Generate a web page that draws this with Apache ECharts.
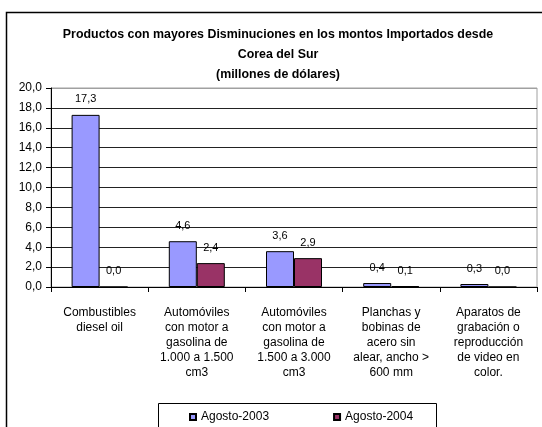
<!DOCTYPE html>
<html>
<head>
<meta charset="utf-8">
<script src="https://cdn.jsdelivr.net/npm/echarts@6/dist/echarts.min.js"></script>
<style>
  html, body { margin: 0; padding: 0; background: #fff; }
  #chart { width: 542px; height: 427px; }
</style>
</head>
<body>
<div id="chart"></div>
<script>
// categorias y valores (millones de dólares)
const categories = [
  "Combustibles\ndiesel oil",
  "Automóviles\ncon motor a\ngasolina de\n1.000 a 1.500\ncm3",
  "Automóviles\ncon motor a\ngasolina de\n1.500 a 3.000\ncm3",
  "Planchas y\nbobinas de\nacero sin\nalear, ancho >\n600 mm",
  "Aparatos de\ngrabación o\nreproducción\nde video en\ncolor."
];
const agosto2003 = [17.3, 4.6, 3.6, 0.4, 0.3];
const agosto2004 = [0.0, 2.4, 2.9, 0.1, 0.0];
const seriesNames = ["Agosto-2003", "Agosto-2004"];

const font = "Arial, 'Liberation Sans', sans-serif";
const fmt = v => v.toFixed(1).replace(".", ",");

const chart = echarts.init(document.getElementById("chart"));

// linea de 20,0 en gris (borde del área), resto negras
const splitColors = ["#000", "#222", "#222", "#222", "#222", "#222", "#222", "#222", "#222", "#222", "#a0a0a0"];

const barLabel = {
  show: true,
  position: "top",
  distance: 10,
  color: "#000",
  fontSize: 11,
  fontFamily: font,
  formatter: p => fmt(p.value)
};

const option = {
  backgroundColor: "#fff",
  animation: false,
  title: {
    text: "Productos con mayores Disminuciones en los montos Importados desde\nCorea del Sur\n(millones de dólares)",
    left: 273,
    top: 20,
    textAlign: "center",
    textStyle: {
      fontFamily: font,
      fontSize: 12.4,
      fontWeight: "bold",
      color: "#000",
      lineHeight: 20
    }
  },
  graphic: [
    {
      type: "rect",
      shape: { x: 6.5, y: 12.5, width: 560, height: 440 },
      style: { fill: "none", stroke: "#000", lineWidth: 1.5 },
      z: 100
    },
    {
      type: "rect",
      shape: { x: 158.5, y: 403.5, width: 278, height: 40 },
      style: { fill: "none", stroke: "#000", lineWidth: 1 },
      z: 100
    }
  ],
  legend: {
    data: seriesNames,
    left: 184,
    top: 406,
    itemWidth: 6,
    itemHeight: 6,
    itemGap: 64,
    icon: "rect",
    textStyle: { fontFamily: font, fontSize: 12, color: "#000" }
  },
  grid: {
    left: 51,
    right: 5,
    top: 88,
    bottom: 140,
    show: true,
    borderColor: "#a0a0a0",
    borderWidth: 1
  },
  xAxis: {
    type: "category",
    data: categories,
    axisLine: { lineStyle: { color: "#000", width: 1 } },
    axisTick: { show: true, length: 5, lineStyle: { color: "#000" } },
    axisLabel: {
      interval: 0,
      margin: 18,
      color: "#000",
      fontSize: 12,
      fontFamily: font,
      lineHeight: 15
    }
  },
  yAxis: {
    type: "value",
    min: 0,
    max: 20,
    interval: 2,
    axisLine: { show: true, lineStyle: { color: "#000" } },
    axisTick: { show: true, length: 5, lineStyle: { color: "#000" } },
    axisLabel: {
      margin: 9,
      color: "#000",
      fontSize: 12,
      fontFamily: font,
      formatter: v => fmt(v)
    },
    splitLine: { show: true, lineStyle: { color: splitColors, width: 1 } }
  },
  series: [
    {
      name: seriesNames[0],
      type: "bar",
      data: agosto2003,
      barWidth: 28,
      barGap: "0%",
      itemStyle: { color: "#9999FF", borderColor: "#000", borderWidth: 1 },
      label: barLabel
    },
    {
      name: seriesNames[1],
      type: "bar",
      data: agosto2004,
      barWidth: 28,
      itemStyle: { color: "#993366", borderColor: "#000", borderWidth: 1 },
      label: barLabel
    }
  ]
};

chart.setOption(option);
</script>
</body>
</html>
